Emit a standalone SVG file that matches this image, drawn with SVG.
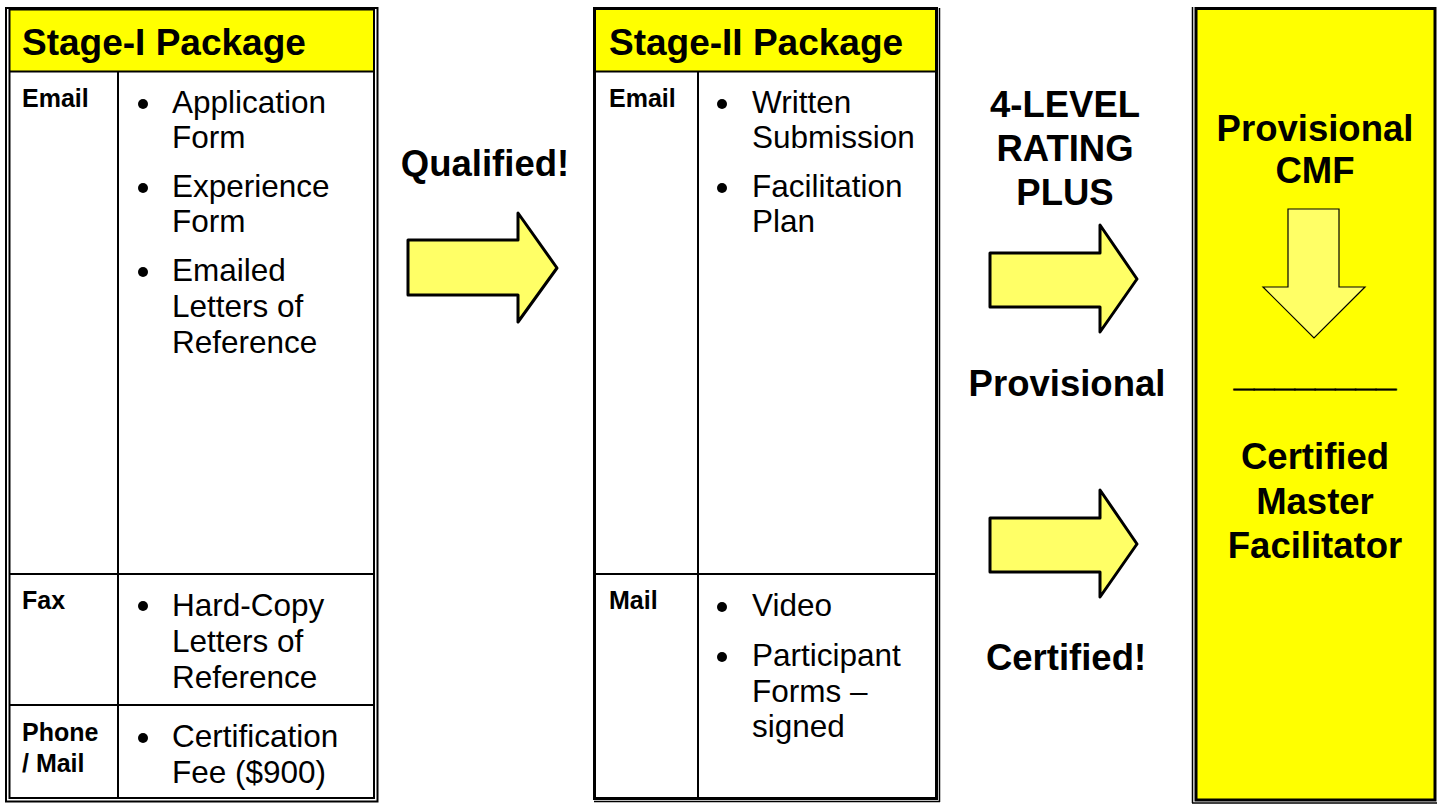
<svg xmlns="http://www.w3.org/2000/svg" width="1440" height="804" viewBox="0 0 1440 804">
<style>
.ln{stroke:#000;fill:none}
.hdr{font-family:"Liberation Sans",Arial,sans-serif;font-weight:bold;font-size:37px;fill:#000}
.lab{font-family:"Liberation Sans",Arial,sans-serif;font-weight:bold;font-size:25px;fill:#000}
.txt{font-family:"Liberation Sans",Arial,sans-serif;font-size:31.5px;fill:#000}
.big{font-family:"Liberation Sans",Arial,sans-serif;font-weight:bold;font-size:36.5px;fill:#000;text-anchor:middle}
.arrow{fill:#FFFF66;stroke:#000;stroke-width:3;stroke-linejoin:round}
</style>
<rect width="1440" height="804" fill="#fff"/>

<g id="stage1">
  <rect x="10" y="10" width="364" height="61" fill="#FFFF00"/>
  <rect class="ln" x="6" y="8" width="371.5" height="793.5" stroke-width="2"/>
  <rect class="ln" x="9.5" y="9.5" width="364.5" height="788.5" stroke-width="2"/>
  <line class="ln" x1="9.5" y1="71.5" x2="374" y2="71.5" stroke-width="2"/>
  <line class="ln" x1="118" y1="71.5" x2="118" y2="798" stroke-width="2"/>
  <line class="ln" x1="9.5" y1="574" x2="374" y2="574" stroke-width="2"/>
  <line class="ln" x1="9.5" y1="705" x2="374" y2="705" stroke-width="2"/>
  <text class="hdr" x="22" y="55">Stage-I Package</text>
  <text class="lab" x="22" y="107">Email</text>
  <circle cx="143" cy="104" r="5"/>
  <text class="txt" x="172" y="113">Application</text>
  <text class="txt" x="172" y="148">Form</text>
  <circle cx="143" cy="188" r="5"/>
  <text class="txt" x="172" y="197">Experience</text>
  <text class="txt" x="172" y="232">Form</text>
  <circle cx="143" cy="272" r="5"/>
  <text class="txt" x="172" y="281">Emailed</text>
  <text class="txt" x="172" y="317">Letters of</text>
  <text class="txt" x="172" y="353">Reference</text>
  <text class="lab" x="22" y="609">Fax</text>
  <circle cx="143" cy="606" r="5"/>
  <text class="txt" x="172" y="616">Hard-Copy</text>
  <text class="txt" x="172" y="652">Letters of</text>
  <text class="txt" x="172" y="688">Reference</text>
  <text class="lab" x="22" y="741">Phone</text>
  <text class="lab" x="22" y="772">/ Mail</text>
  <circle cx="143" cy="738" r="5"/>
  <text class="txt" x="172" y="747">Certification</text>
  <text class="txt" x="172" y="783">Fee ($900)</text>
</g>

<g id="stage2">
  <rect x="596" y="10" width="340" height="61" fill="#FFFF00"/>
  <rect class="ln" x="594.5" y="8.5" width="342" height="790" stroke-width="3"/>
  <line class="ln" x1="939.5" y1="8" x2="939.5" y2="802" stroke-width="1.5"/>
  <line class="ln" x1="594" y1="801.5" x2="940" y2="801.5" stroke-width="1.5"/>
  <line class="ln" x1="595" y1="71.5" x2="936" y2="71.5" stroke-width="2"/>
  <line class="ln" x1="698" y1="71.5" x2="698" y2="798" stroke-width="2"/>
  <line class="ln" x1="595" y1="574" x2="936" y2="574" stroke-width="2"/>
  <text class="hdr" x="609" y="55">Stage-II Package</text>
  <text class="lab" x="609" y="107">Email</text>
  <circle cx="722" cy="104" r="5"/>
  <text class="txt" x="752" y="113">Written</text>
  <text class="txt" x="752" y="148">Submission</text>
  <circle cx="722" cy="188" r="5"/>
  <text class="txt" x="752" y="197">Facilitation</text>
  <text class="txt" x="752" y="232">Plan</text>
  <text class="lab" x="609" y="609">Mail</text>
  <circle cx="722" cy="607" r="5"/>
  <text class="txt" x="752" y="616">Video</text>
  <circle cx="722" cy="657" r="5"/>
  <text class="txt" x="752" y="666">Participant</text>
  <text class="txt" x="752" y="702">Forms –</text>
  <text class="txt" x="752" y="737">signed</text>
</g>

<g id="result">
  <rect x="1196" y="8.5" width="239" height="791.5" fill="#FFFF00" stroke="#000" stroke-width="3"/>
  <line class="ln" x1="1192.5" y1="7" x2="1192.5" y2="803" stroke-width="1.5"/>
  <line class="ln" x1="1192" y1="803" x2="1437" y2="803" stroke-width="1.5"/>
  <text class="big" x="1315" y="141">Provisional</text>
  <text class="big" x="1315" y="183">CMF</text>
  <path d="M1288,209 H1339 V287 H1365 L1314,338 L1263,287 H1288 Z" fill="#FFFF66" stroke="#000" stroke-width="1.2"/>
  <text class="big" x="1315" y="386" stroke="#000" stroke-width="0.6">________</text>
  <text class="big" x="1315" y="469">Certified</text>
  <text class="big" x="1315" y="514">Master</text>
  <text class="big" x="1315" y="558">Facilitator</text>
</g>

<g id="connectors">
  <path class="arrow" d="M408,240 H518 V213 L557,268 L518,322 V295 H408 Z"/>
  <path class="arrow" d="M990,253 H1100 V225 L1137,279 L1100,332 V307 H990 Z"/>
  <path class="arrow" d="M990,518 H1100 V490 L1137,544 L1100,597 V572 H990 Z"/>
</g>

<g id="labels">
  <text class="big" x="485" y="176">Qualified!</text>
  <text class="big" x="1065" y="117">4-LEVEL</text>
  <text class="big" x="1065" y="161">RATING</text>
  <text class="big" x="1065" y="205">PLUS</text>
  <text class="big" x="1067" y="396">Provisional</text>
  <text class="big" x="1066" y="670">Certified!</text>
</g>
</svg>
